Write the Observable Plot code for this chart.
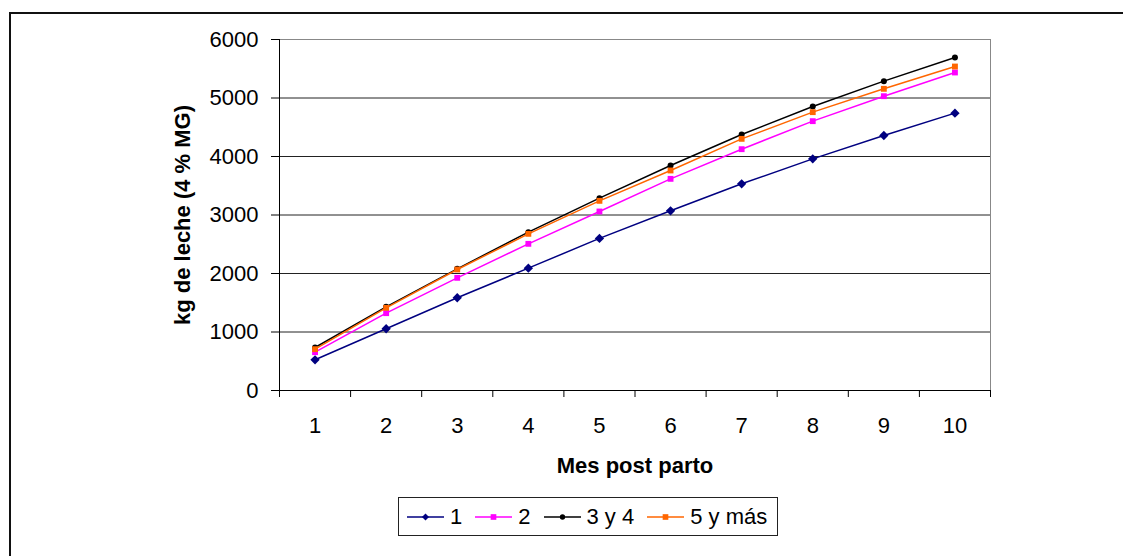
<!DOCTYPE html>
<html>
<head>
<meta charset="utf-8">
<script src="https://cdn.jsdelivr.net/npm/d3@7"></script>
<script src="https://cdn.jsdelivr.net/npm/@observablehq/plot@0.6"></script>
<style>
  html, body { margin: 0; padding: 0; background: #fff; }
  body { width: 1123px; height: 556px; overflow: hidden; position: relative;
         font-family: "Liberation Sans", Arial, sans-serif; }
  #marco { position: absolute; left: 9px; top: 12px; width: 1300px; height: 700px;
           border: 2px solid #111; box-sizing: border-box; }
  #grafico { position: absolute; left: 0; top: 0; }
  #leyenda { position: absolute; left: 398px; top: 497px; width: 380px; height: 39px;
             box-sizing: border-box; border: 1px solid #222; display: flex;
             align-items: center; padding-left: 8px; font-size: 22px; color: #000;
             white-space: nowrap; }
  #leyenda .item { display: flex; align-items: center; margin-right: 13px; flex-shrink: 0; }
  #leyenda svg { margin-right: 6px; flex-shrink: 0; }
</style>
</head>
<body>
<div id="marco"></div>
<div id="grafico"></div>
<div id="leyenda"></div>
<script>
// Mes post parto
const meses = [1, 2, 3, 4, 5, 6, 7, 8, 9, 10];
// Producción acumulada (kg de leche, 4 % MG) por número de parto
const serie1 = [525, 1055, 1585, 2091, 2600, 3072, 3533, 3960, 4359, 4741];
const serie2 = [655, 1322, 1926, 2507, 3060, 3618, 4125, 4604, 5031, 5436];
const serie3y4 = [735, 1430, 2080, 2707, 3288, 3846, 4376, 4855, 5288, 5692];
const serie5ymas = [706, 1413, 2068, 2678, 3242, 3761, 4302, 4758, 5157, 5538];
const yTicks = [0, 1000, 2000, 3000, 4000, 5000, 6000];

const series = [
  {nombre: "1", valores: serie1, color: "#000080", simbolo: "diamond2", r: 4.2},
  {nombre: "2", valores: serie2, color: "#ff00ff", simbolo: "square", r: 3.3},
  {nombre: "3 y 4", valores: serie3y4, color: "#000000", simbolo: "circle", r: 3},
  {nombre: "5 y más", valores: serie5ymas, color: "#ff6600", simbolo: "square", r: 3.3}
];

const filas = series.flatMap(s => s.valores.map((v, i) => ({serie: s.nombre, mes: meses[i], kg: v})));
const limites = d3.range(0.5, meses.length + 1, 1);

const marks = [
  Plot.frame({stroke: "#888"}),
  Plot.gridY(yTicks.slice(1, -1), {stroke: "#222", strokeOpacity: 1, strokeWidth: 1}),
  Plot.ruleY([0], {stroke: "#000"}),
  Plot.ruleX([0.5], {stroke: "#000"}),
  Plot.axisX(limites, {tickSize: 7, tickFormat: () => "", stroke: "#000", label: null}),
  Plot.axisX(meses, {tickSize: 0, tickPadding: 27, fontSize: 22, tickFormat: d => String(d), label: null}),
  Plot.axisY(yTicks, {tickSize: 8, tickPadding: 13, fontSize: 22, label: null, stroke: "#000",
    tickFormat: d => String(d)}),
  Plot.text(["kg de leche (4 % MG)"], {frameAnchor: "left", textAnchor: "middle", lineAnchor: "middle",
    rotate: -90, dx: -97, fontSize: 22, fontWeight: "bold"}),
  Plot.text(["Mes post parto"], {frameAnchor: "bottom", textAnchor: "middle", lineAnchor: "middle",
    dy: 75, fontSize: 22, fontWeight: "bold"})
];

for (const s of series) {
  const d = filas.filter(f => f.serie === s.nombre);
  marks.push(Plot.line(d, {x: "mes", y: "kg", stroke: s.color, strokeWidth: 1.5}));
  marks.push(Plot.dot(d, {x: "mes", y: "kg", symbol: () => s.simbolo, fill: s.color,
    stroke: "none", r: s.r}));
}

const chart = Plot.plot({
  width: 1123,
  height: 480,
  marginLeft: 279,
  marginRight: 133,
  marginTop: 39,
  marginBottom: 90,
  style: {fontFamily: "'Liberation Sans', Arial, sans-serif", background: "transparent", color: "#000"},
  x: {type: "linear", domain: [0.5, meses.length + 0.5]},
  y: {domain: [0, 6000]},
  symbol: {type: "identity"},
  marks
});
document.getElementById("grafico").appendChild(chart);

// Leyenda
const simbolosD3 = {diamond2: d3.symbolDiamond2, square: d3.symbolSquare, circle: d3.symbolCircle};
const leyenda = d3.select("#leyenda");
for (const s of series) {
  const item = leyenda.append("div").attr("class", "item");
  const svg = item.append("svg").attr("width", 37).attr("height", 12);
  svg.append("line").attr("x1", 0).attr("x2", 37).attr("y1", 6).attr("y2", 6)
    .attr("stroke", s.color).attr("stroke-width", 1.5);
  svg.append("path").attr("transform", "translate(18.5,6)")
    .attr("d", d3.symbol(simbolosD3[s.simbolo], s.simbolo === "circle" ? 22 : 32)())
    .attr("fill", s.color);
  item.append("span").text(s.nombre);
}
</script>
</body>
</html>
